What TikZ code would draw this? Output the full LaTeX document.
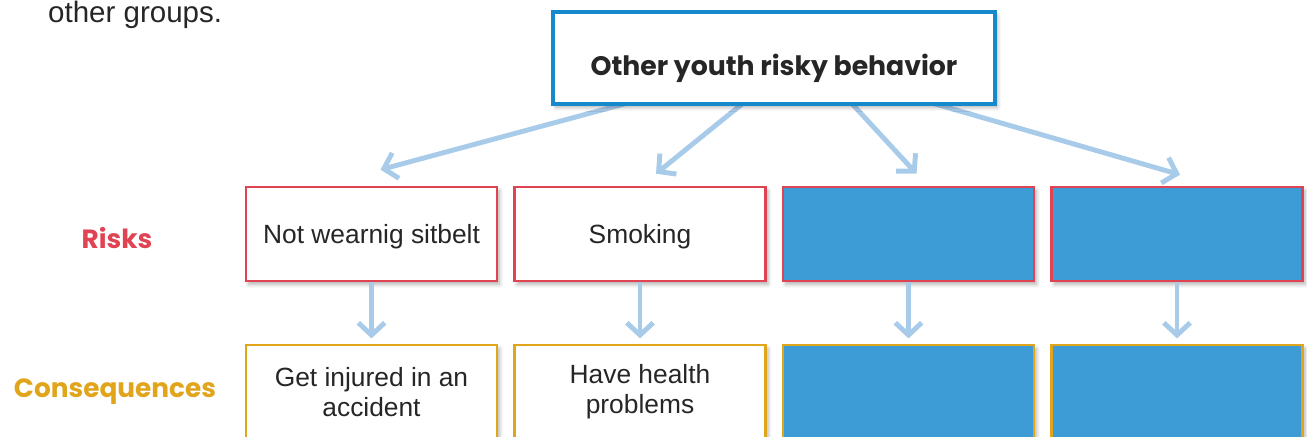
\documentclass[tikz,border=0pt]{standalone}
\usepackage{fontspec}
\setmainfont{Liberation Sans}
\newfontfamily\manofont{Poppins}
\usetikzlibrary{arrows.meta, positioning, calc, shadows.blur}
\definecolor{azulmarco}{HTML}{1589CC}
\definecolor{rojo}{HTML}{E04453}
\definecolor{ocre}{HTML}{E0A51B}
\definecolor{relleno}{HTML}{3D9BD6}
\definecolor{celeste}{HTML}{A9CBEA}
\definecolor{tinta}{HTML}{262626}
\pgfdeclarelayer{fondo}
\pgfsetlayers{fondo,main}
\tikzset{
  every picture/.style={font=\fontsize{15}{17}\selectfont, text=tinta},
  sombra/.style={blur shadow={shadow xshift=1.5pt, shadow yshift=-2pt, shadow blur steps=6, shadow opacity=30}},
  tema/.style={draw=azulmarco, fill=white, line width=1.8pt, sombra, minimum width=8.84cm, minimum height=1.84cm,
              text height=20pt, text depth=0pt, font=\manofont\bfseries\fontsize{15.2}{19}\selectfont},
  riesgo/.style={draw=rojo, fill=white, line width=1.5pt, sombra, minimum width=5.02cm, minimum height=1.88cm,
              inner sep=0pt, align=center, text depth=0pt},
  conse/.style={riesgo, draw=ocre, text depth=},
  vacio/.style={fill=relleno},
  etiq/.style={font=\manofont\bfseries\fontsize{15}{18}\selectfont},
  flecha/.style={-{Straight Barb[length=7pt, width=15pt]}, line width=2.8pt, celeste},
}

\begin{document}
\begin{tikzpicture}[x=0.02cm, y=-0.02cm]
  \useasboundingbox (0,0) rectangle (1307,436);
  \clip (0,0) rectangle (1307,436);
  \node[anchor=base west, font=\fontsize{16.8}{19}\selectfont] (intro) at (42,22) {other groups.};
  \node[tema] (tema) at (774,58) {Other youth risky behavior};
  \node[etiq, text=rojo] (riesgos) at (117,238) {Risks};
  \node[etiq, text=ocre] (consecuencias) at (115,392) {Consequences};
  \node[riesgo] (r1) at (371.5,234) {Not wearnig sitbelt};
  \node[riesgo] (r2) at (640,234) {Smoking};
  \node[riesgo, vacio] (r3) at (908.5,234) {};
  \node[riesgo, vacio] (r4) at (1177,234) {};
  \node[conse] (c1) at (371.5,392) {Get injured in an\\accident};
  \node[conse] (c2) at (640,392) {Have health\\problems};
  \node[conse, vacio] (c3) at (908.5,392) {};
  \node[conse, vacio] (c4) at (1177,392) {};
  \begin{pgfonlayer}{fondo}
    \draw[flecha] ($(tema.south)+(-141,-4)$) -- ($(r1.north)+(9,-16)$);
    \draw[flecha] ($(tema.south)+(-29,-4)$) -- ($(r2.north)+(16,-12)$);
    \draw[flecha] ($(tema.south)+(76,-4)$) -- ($(r3.north)+(8,-12)$);
    \draw[flecha] ($(tema.south)+(153,-4)$) -- ($(r4.north)+(3,-11)$);
  \end{pgfonlayer}
  \draw[flecha, shorten >=3pt] (r1) -- (c1);
  \draw[flecha, shorten >=3pt] (r2) -- (c2);
  \draw[flecha, shorten >=3pt] (r3) -- (c3);
  \draw[flecha, shorten >=3pt] (r4) -- (c4);
\end{tikzpicture}
\end{document}
